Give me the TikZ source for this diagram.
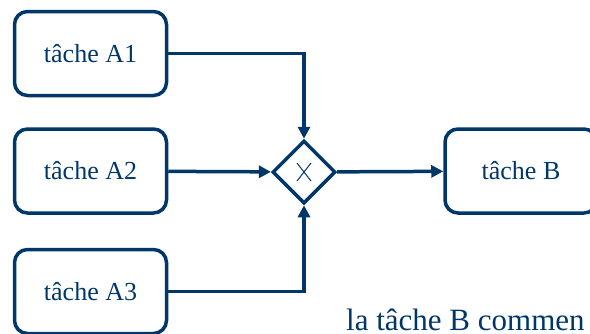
\documentclass[tikz,border=0pt]{standalone}
\usepackage{fontspec}
\setmainfont{Liberation Serif}
\usetikzlibrary{arrows.meta,shapes.geometric}
\definecolor{bpmnblue}{RGB}{0,55,105}
\begin{document}
\begin{tikzpicture}[x=1pt,y=-1pt]

      \useasboundingbox (0,0) rectangle (590,333);
      \clip (0,0) rectangle (590,333);

      \begin{scope}[every node/.style={draw=bpmnblue, line width=3.5pt, rounded corners=13pt,
          minimum width=152pt, minimum height=84pt, text=bpmnblue, font=\fontsize{26}{30}\selectfont}]
        \node (a1) at (90.5,53.5)  {tâche A1};
        \node (a2) at (90.5,171)   {tâche A2};
        \node (a3) at (90.5,291.5) {tâche A3};
        \node (b)  at (521,171)    {tâche B};
      \end{scope}

      \node[diamond, draw=bpmnblue, line width=3.5pt, minimum size=63pt, inner sep=0pt] (gw) at (304,172) {};
      \draw[bpmnblue, line width=1pt] ([shift={(-7,-9)}]gw.center) -- ([shift={(7,9)}]gw.center);
      \draw[bpmnblue, line width=1pt] ([shift={(-7,9)}]gw.center) -- ([shift={(7,-9)}]gw.center);

      \begin{scope}[every path/.style={draw=bpmnblue, line width=3.5pt, -{Triangle[length=12pt,width=12pt]}}]
        \path (a1.east) -| (gw.north);
        \path (a2) -- (gw);
        \path (a3.east) -| (gw.south);
        \path (gw) -- (b);
      \end{scope}

      \node[anchor=base west, inner sep=0pt, text=bpmnblue, font=\fontsize{31}{36}\selectfont] (note) at (346,330) {la tâche B commen};

    \end{tikzpicture}
\end{document}
